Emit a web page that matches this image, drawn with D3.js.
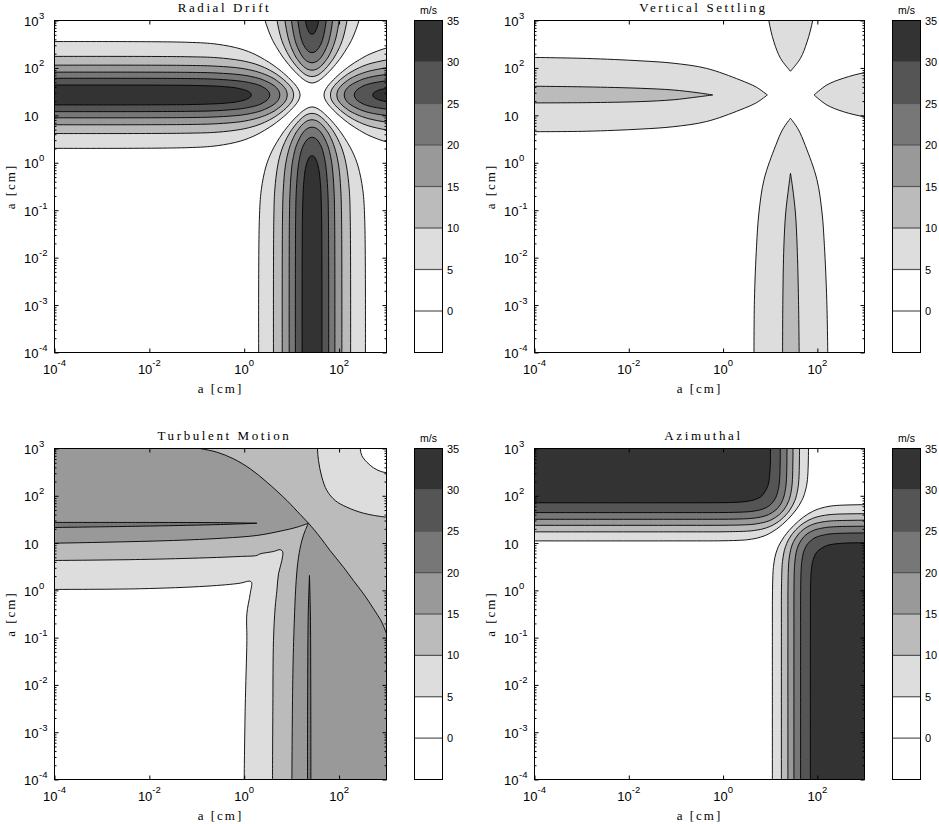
<!DOCTYPE html>
<html><head><meta charset="utf-8">
<script src="https://cdn.jsdelivr.net/npm/d3@7"></script>
<style>body{margin:0;background:#fff}</style></head>
<body><svg id="c" width="939" height="824"></svg>
<script>
// ---------------- data (sizes as log10(a [cm])) ----------------
const panelTitles = ["Radial Drift", "Vertical Settling", "Turbulent Motion", "Azimuthal"];
const xTickExps = [-4, -2, 0, 2];
const xTickLabels = [["10","-4"],["10","-2"],["10","0"],["10","2"]];
const yTickExps = [-4, -3, -2, -1, 0, 1, 2, 3];
const yTickLabels = [["10","-4"],["10","-3"],["10","-2"],["10","-1"],["10","0"],["10",""],["10","2"],["10","3"]];
const colorbarTicks = [0, 5, 10, 15, 20, 25, 30, 35];
const bandLevels = [-5, 0, 5, 10, 15, 20, 25, 30, 35];

// Radial drift: lobe left of the diagonal (a1 small) and lobe right of it (a1 large); panel symmetric in a1<->a2
const radialLeftLobes = [
 {level:5, pts:[[-4.3,2.555],[-1.2,2.541],[-0.57,2.5],[-0.07,2.4],[0.23,2.284],[0.43,2.175],[0.63,2.046],[0.83,1.889],[0.93,1.798],[1.03,1.696],[1.08,1.64],[1.13,1.569],[1.16,1.512],[1.178,1.43],[1.16,1.348],[1.13,1.291],[1.08,1.22],[1.03,1.164],[0.93,1.062],[0.83,0.971],[0.63,0.814],[0.43,0.685],[0.23,0.576],[-0.07,0.46],[-0.57,0.36],[-1.2,0.319],[-4.3,0.305]]},
 {level:10, pts:[[-4.3,2.243],[-1.2,2.236],[-0.57,2.215],[-0.07,2.156],[0.23,2.084],[0.43,2.007],[0.63,1.901],[0.73,1.834],[0.83,1.756],[0.93,1.661],[0.98,1.599],[1.01,1.555],[1.03,1.505],[1.042,1.43],[1.03,1.355],[1.01,1.305],[0.98,1.261],[0.93,1.199],[0.83,1.104],[0.73,1.026],[0.63,0.959],[0.43,0.853],[0.23,0.776],[-0.07,0.704],[-0.57,0.645],[-1.2,0.624],[-4.3,0.617]]},
 {level:15, pts:[[-4.3,2.058],[-1.2,2.053],[-0.57,2.036],[-0.07,1.993],[0.23,1.932],[0.43,1.867],[0.53,1.823],[0.63,1.772],[0.73,1.7],[0.78,1.66],[0.83,1.609],[0.87,1.555],[0.89,1.518],[0.908,1.43],[0.89,1.342],[0.87,1.305],[0.83,1.251],[0.78,1.2],[0.73,1.16],[0.63,1.088],[0.53,1.037],[0.43,0.993],[0.23,0.928],[-0.07,0.867],[-0.57,0.824],[-1.2,0.807],[-4.3,0.802]]},
 {level:20, pts:[[-4.3,1.911],[-1.2,1.907],[-0.57,1.893],[-0.07,1.855],[0.13,1.822],[0.33,1.773],[0.43,1.734],[0.53,1.688],[0.63,1.626],[0.68,1.585],[0.71,1.547],[0.73,1.515],[0.752,1.43],[0.73,1.345],[0.71,1.313],[0.68,1.275],[0.63,1.234],[0.53,1.172],[0.43,1.126],[0.33,1.087],[0.13,1.038],[-0.07,1.005],[-0.57,0.968],[-1.2,0.953],[-4.3,0.949]]},
 {level:25, pts:[[-4.3,1.781],[-1.2,1.776],[-0.57,1.761],[-0.07,1.721],[0.13,1.686],[0.23,1.662],[0.33,1.63],[0.43,1.577],[0.48,1.54],[0.51,1.508],[0.54,1.43],[0.51,1.352],[0.48,1.32],[0.43,1.283],[0.33,1.23],[0.23,1.198],[0.13,1.174],[-0.07,1.139],[-0.57,1.099],[-1.2,1.084],[-4.3,1.079]]},
 {level:30, pts:[[-4.3,1.639],[-1.2,1.633],[-0.57,1.615],[-0.37,1.601],[-0.17,1.578],[-0.07,1.557],[0.03,1.53],[0.08,1.506],[0.13,1.475],[0.149,1.43],[0.13,1.385],[0.08,1.354],[0.03,1.33],[-0.07,1.303],[-0.17,1.282],[-0.37,1.259],[-0.57,1.245],[-1.2,1.227],[-4.3,1.221]]}
];
const radialRightLobes = [
 {level:5, pts:[[3.3,2.482],[3.0,2.42],[2.63,2.284],[2.43,2.175],[2.23,2.046],[2.03,1.889],[1.93,1.798],[1.83,1.696],[1.78,1.64],[1.73,1.569],[1.7,1.512],[1.682,1.43],[1.7,1.348],[1.73,1.291],[1.78,1.22],[1.83,1.164],[1.93,1.062],[2.03,0.971],[2.23,0.814],[2.43,0.685],[2.63,0.576],[3.0,0.44],[3.3,0.378]]},
 {level:10, pts:[[3.3,2.205],[3.0,2.168],[2.63,2.084],[2.43,2.007],[2.23,1.901],[2.13,1.834],[2.03,1.756],[1.93,1.661],[1.88,1.599],[1.85,1.555],[1.83,1.505],[1.818,1.43],[1.83,1.355],[1.85,1.305],[1.88,1.261],[1.93,1.199],[2.03,1.104],[2.13,1.026],[2.23,0.959],[2.43,0.853],[2.63,0.776],[3.0,0.692],[3.3,0.655]]},
 {level:15, pts:[[3.3,2.028],[3.0,2.002],[2.63,1.932],[2.43,1.867],[2.33,1.823],[2.23,1.772],[2.13,1.7],[2.08,1.66],[2.03,1.609],[1.99,1.555],[1.97,1.518],[1.952,1.43],[1.97,1.342],[1.99,1.305],[2.03,1.251],[2.08,1.2],[2.13,1.16],[2.23,1.088],[2.33,1.037],[2.43,0.993],[2.63,0.928],[3.0,0.858],[3.3,0.832]]},
 {level:20, pts:[[3.3,1.887],[3.0,1.863],[2.73,1.822],[2.53,1.773],[2.43,1.734],[2.33,1.688],[2.23,1.626],[2.18,1.585],[2.15,1.547],[2.13,1.515],[2.108,1.43],[2.13,1.345],[2.15,1.313],[2.18,1.275],[2.23,1.234],[2.33,1.172],[2.43,1.126],[2.53,1.087],[2.73,1.038],[3.0,0.997],[3.3,0.973]]},
 {level:25, pts:[[3.3,1.753],[3.0,1.729],[2.73,1.686],[2.63,1.662],[2.53,1.63],[2.43,1.577],[2.38,1.54],[2.35,1.508],[2.32,1.43],[2.35,1.352],[2.38,1.32],[2.43,1.283],[2.53,1.23],[2.63,1.198],[2.73,1.174],[3.0,1.131],[3.3,1.107]]},
 {level:30, pts:[[3.3,1.607],[3.0,1.57],[2.93,1.557],[2.83,1.53],[2.78,1.506],[2.73,1.475],[2.711,1.43],[2.73,1.385],[2.78,1.354],[2.83,1.33],[2.93,1.303],[3.0,1.29],[3.3,1.253]]}
];

// Vertical settling: pointed lobes (top edge, tip, bottom edge); symmetric in a1<->a2
const settlingLeftLobes = [
 {level:5, top:[[-4.3,2.225],[-2.9,2.2],[-1.76,2.15],[-1.06,2.1],[-0.35,1.99],[0.36,1.746],[0.71,1.592],[0.939,1.43]],
           bottom:[[0.939,1.43],[0.71,1.268],[0.36,1.114],[-0.35,0.87],[-1.06,0.76],[-1.76,0.71],[-2.9,0.665],[-4.3,0.655]]},
 {level:10, top:[[-4.3,1.617],[-2.9,1.6],[-1.76,1.571],[-1.06,1.535],[-0.53,1.476],[-0.22,1.43]],
            bottom:[[-0.22,1.43],[-0.53,1.39],[-1.06,1.328],[-1.76,1.29],[-2.9,1.268],[-4.3,1.262]]}
];
const settlingRightLobes = [
 {level:5, top:[[3.3,1.93],[3.0,1.9],[2.55,1.782],[2.2,1.64],[1.93,1.43]],
           bottom:[[1.93,1.43],[2.2,1.22],[2.55,1.078],[3.0,0.97],[3.3,0.94]]}
];

// Azimuthal: corner contours of the upper-left region (a1 small, a2 large); symmetric in a1<->a2
const azimuthalCorners = [
 {level:5, pts:[[-4.3,1.046],[-1,1.046],[0,1.0485],[0.3893,1.06],[0.5105,1.07],[0.7017,1.1],[0.8689,1.15],[0.9797,1.2],[1.1408,1.3],[1.266,1.4],[1.3724,1.5],[1.4653,1.6],[1.5459,1.7],[1.6143,1.8],[1.67,1.9],[1.7134,2.0],[1.7685,2.2],[1.7948,2.4],[1.8127,3.0],[1.813,3.3]]},
 {level:10, pts:[[-4.3,1.2372],[-1,1.2372],[0,1.2387],[0.4782,1.25],[0.6079,1.26],[0.8442,1.3],[0.992,1.35],[1.0917,1.4],[1.1695,1.45],[1.2337,1.5],[1.3372,1.6],[1.4166,1.7],[1.4775,1.8],[1.523,1.9],[1.5558,2.0],[1.5941,2.2],[1.611,2.4],[1.622,3.0],[1.6222,3.3]]},
 {level:15, pts:[[-4.3,1.3753],[-1,1.3753],[0,1.3765],[0.4535,1.385],[0.6612,1.4],[0.9162,1.45],[1.0403,1.5],[1.1903,1.6],[1.2849,1.7],[1.3498,1.8],[1.3949,1.9],[1.4258,2.0],[1.4601,2.2],[1.4736,2.4],[1.4841,3.0],[1.4843,3.3]]},
 {level:20, pts:[[-4.3,1.5029],[-1,1.5029],[0,1.5041],[0.383,1.51],[0.5743,1.52],[0.7983,1.55],[0.9605,1.6],[1.1194,1.7],[1.2062,1.8],[1.2602,1.9],[1.295,2.0],[1.3318,2.2],[1.347,2.4],[1.3565,3.0],[1.3568,3.3]]},
 {level:25, pts:[[-4.3,1.6448],[-1,1.6448],[0,1.6463],[0.4142,1.655],[0.61,1.67],[0.7779,1.7],[0.9133,1.75],[0.9915,1.8],[1.0828,1.9],[1.1338,2.0],[1.1834,2.2],[1.2027,2.4],[1.2145,3.0],[1.2148,3.3]]},
 {level:30, pts:[[-4.3,1.852],[-1,1.852],[0,1.8546],[0.2353,1.86],[0.4066,1.87],[0.6099,1.9],[0.7498,1.95],[0.8238,2.0],[0.9464,2.2],[0.9936,2.5],[1.0068,3.0],[1.007,3.3]]}
];

// Turbulent motion: filled regions (background band is 15-20)
const turbulentRegions = [
 {level:10, segs:[[[-1.5,3.12],[-0.928,3.0],[-0.576,2.922],[-0.226,2.782],[0.126,2.571],[0.478,2.288],[0.9,1.9],[1.18,1.605],[1.355,1.42],[1.6,1.125],[1.81,0.843],[2.093,0.49],[2.3,0.21],[2.515,-0.072],[2.726,-0.389],[2.9,-0.672],[3.0,-0.918],[3.1,-1.25]]], corner:[[3.3,-1.25],[3.3,3.3],[-1.5,3.3]]},
 {level:10, segs:[[[-4.3,0.995],[-3.985,0.998],[-2.895,1.019],[-1.491,1.055],[-0.437,1.104],[0.267,1.161],[0.759,1.252],[1.111,1.336],[1.355,1.42]],
                  [[1.355,1.42],[1.286,1.266],[1.216,1.055],[1.145,0.702],[1.096,0.21],[1.054,-0.706],[1.026,-1.763],[1.005,-3.98],[1.003,-4.3]]], corner:[[-4.3,-4.3]]},
 {level:5, segs:[[[1.54,3.3],[1.545,3.0],[1.566,2.746],[1.637,2.394],[1.743,2.112],[1.918,1.9],[2.165,1.759],[2.515,1.632],[2.987,1.548],[3.3,1.53]]], corner:[[3.3,3.3]]},
 {level:5, segs:[[[-4.3,0.63],[-3.985,0.632],[-2.19,0.653],[-0.787,0.689],[-0.085,0.717],[0.267,0.738],[0.33,0.77],[0.617,0.822],[0.759,0.86],[0.81,0.82],[0.794,0.632],[0.723,0.35],[0.689,0.0],[0.653,-0.355],[0.617,-1.06],[0.604,-2.47],[0.597,-3.98],[0.597,-4.3]]], corner:[[-4.3,-4.3]]},
 {level:0, segs:[[[2.44,3.3],[2.445,3.0],[2.48,2.85],[2.587,2.71],[2.726,2.592],[2.867,2.52],[2.987,2.49],[3.3,2.47]]], corner:[[3.3,3.3]]},
 {level:0, segs:[[[-4.3,0.017],[-3.985,0.019],[-2.19,0.034],[-0.787,0.089],[-0.085,0.152],[0.111,0.195],[0.155,0.17],[0.126,-0.072],[0.056,-0.495],[0.056,-1.06],[0.021,-2.47],[0.0,-3.98],[0.0,-4.3]]], corner:[[-4.3,-4.3]]},
 {level:20, segs:[[[-4.3,1.437],[-2,1.436],[-0.5,1.432],[0.267,1.42]],[[0.267,1.42],[-0.5,1.392],[-2,1.36],[-4.3,1.325]]], corner:[]},
 {level:20, segs:[[[1.334,-4.3],[1.338,-2],[1.35,-0.5],[1.376,0.315]],[[1.376,0.315],[1.395,-0.5],[1.403,-2],[1.406,-4.3]]], corner:[]}
];

// ---------------- styles / layout ----------------
const shade = {0:"#ffffff",5:"#dddddd",10:"#bbbbbb",15:"#999999",20:"#777777",25:"#555555",30:"#333333"};
const SERIF = "'Liberation Serif','Times New Roman',serif";
const SANS = "'Liberation Sans',Arial,Helvetica,sans-serif";
const layout = [
 {x0:54.5, x1:386.5, y0:20.5, y1:352.5},
 {x0:534.5, x1:864.5, y0:20.5, y1:352.5},
 {x0:54.5, x1:386.5, y0:448.5, y1:779.5},
 {x0:534.5, x1:864.5, y0:448.5, y1:779.5}
];

const svg = d3.select("#c");

function regionPath(segs, corner, sx, sy, swap) {
  const P = p => swap ? [sx(Math.pow(10,p[1])), sy(Math.pow(10,p[0]))] : [sx(Math.pow(10,p[0])), sy(Math.pow(10,p[1]))];
  const path = d3.path();
  let started = false;
  const ctx = {
    moveTo(x,y){ if (started) path.lineTo(x,y); else { path.moveTo(x,y); started = true; } },
    lineTo(x,y){ path.lineTo(x,y); },
    bezierCurveTo(a,b,c,d,e,f){ path.bezierCurveTo(a,b,c,d,e,f); },
    closePath(){}
  };
  const line = d3.line().x(d => P(d)[0]).y(d => P(d)[1]).curve(d3.curveCatmullRom.alpha(0.5)).context(ctx);
  segs.forEach(s => line(s));
  (corner || []).forEach(c => { const q = P(c); path.lineTo(q[0], q[1]); });
  path.closePath();
  return path.toString();
}

function panel(i, drawContent, baseLevel) {
  const L = layout[i];
  const sx = d3.scaleLog().domain([1e-4, 1e3]).range([L.x0, L.x1]);
  const sy = d3.scaleLog().domain([1e-4, 1e3]).range([L.y1, L.y0]);
  const g = svg.append("g");
  const cid = "clip" + i;
  g.append("clipPath").attr("id", cid).append("rect")
    .attr("x", L.x0).attr("y", L.y0).attr("width", L.x1 - L.x0).attr("height", L.y1 - L.y0);
  const c = g.append("g").attr("clip-path", `url(#${cid})`);
  c.append("rect").attr("x", L.x0).attr("y", L.y0).attr("width", L.x1 - L.x0).attr("height", L.y1 - L.y0)
    .attr("fill", shade[baseLevel]);
  const add = (segs, corner, level, swap) => {
    c.append("path").attr("d", regionPath(segs, corner, sx, sy, swap))
      .attr("fill", shade[level]).attr("stroke", "#000").attr("stroke-width", 0.9)
      .attr("stroke-linejoin", "round");
  };
  drawContent(add);

  // axes (ticks inward)
  const ax = g.append("g").attr("font-family", SANS);
  const xt = xTickExps.map(e => Math.pow(10, e));
  const yt = yTickExps.map(e => Math.pow(10, e));
  const minor = [];
  for (let n = -4; n < 3; n++) for (let k = 2; k < 10; k++) minor.push(k * Math.pow(10, n));
  const mk = (axis, tr) => {
    const a = ax.append("g").attr("transform", tr).call(axis);
    a.select(".domain").remove();
    a.selectAll("line").attr("stroke", "#000");
  };
  mk(d3.axisBottom(sx).tickValues(xt).tickSize(-4).tickFormat(""), `translate(0,${L.y1})`);
  mk(d3.axisTop(sx).tickValues(xt).tickSize(-4).tickFormat(""), `translate(0,${L.y0})`);
  mk(d3.axisLeft(sy).tickValues(yt).tickSize(-4).tickFormat(""), `translate(${L.x0},0)`);
  mk(d3.axisRight(sy).tickValues(yt).tickSize(-4).tickFormat(""), `translate(${L.x1},0)`);
  mk(d3.axisLeft(sy).tickValues(minor).tickSize(-2).tickFormat(""), `translate(${L.x0},0)`);
  mk(d3.axisRight(sy).tickValues(minor).tickSize(-2).tickFormat(""), `translate(${L.x1},0)`);

  g.append("rect").attr("x", L.x0).attr("y", L.y0).attr("width", L.x1 - L.x0).attr("height", L.y1 - L.y0)
    .attr("fill", "none").attr("stroke", "#000").attr("stroke-width", 1);

  // x tick labels
  xTickExps.forEach((e, j) => {
    const t = g.append("text").attr("x", sx(Math.pow(10, e))).attr("y", L.y1 + 21.5)
      .attr("text-anchor", "middle").attr("font-family", SANS).attr("font-size", 13).attr("fill", "#000");
    t.append("tspan").text(xTickLabels[j][0]);
    t.append("tspan").attr("dy", -8).attr("font-size", 9.5).text(xTickLabels[j][1]);
  });
  // y tick labels
  yTickExps.forEach((e, j) => {
    const Y = sy(Math.pow(10, e));
    g.append("text").attr("x", L.x0 - 16).attr("y", Y + 5.5).attr("text-anchor", "end")
      .attr("font-family", SANS).attr("font-size", 13).text(yTickLabels[j][0]);
    if (yTickLabels[j][1]) g.append("text").attr("x", L.x0 - 15.5).attr("y", Y - 1.5)
      .attr("font-family", SANS).attr("font-size", 9.5).text(yTickLabels[j][1]);
  });
  // axis labels
  const cx = (L.x0 + L.x1) / 2, cy = (L.y0 + L.y1) / 2;
  g.append("text").attr("x", cx).attr("y", L.y1 + 40).attr("text-anchor", "middle")
    .attr("font-family", SERIF).attr("font-size", 13).attr("letter-spacing", 2).text("a [cm]");
  g.append("text").attr("transform", `translate(${L.x0 - 40},${cy}) rotate(-90)`).attr("text-anchor", "middle")
    .attr("font-family", SERIF).attr("font-size", 13).attr("letter-spacing", 2).text("a [cm]");
  // title
  g.append("text").attr("x", cx + 4).attr("y", L.y0 - 8.5).attr("text-anchor", "middle")
    .attr("font-family", SERIF).attr("font-size", 13).attr("letter-spacing", 2.6).text(panelTitles[i]);

  // colorbar
  const cbx0 = L.x1 + 28, cbw = 28;
  const cs = d3.scaleLinear().domain([bandLevels[0], bandLevels[bandLevels.length - 1]]).range([L.y1, L.y0]);
  const cb = g.append("g");
  for (let k = 0; k < bandLevels.length - 1; k++) {
    const lo = bandLevels[k], hi = bandLevels[k + 1];
    cb.append("rect").attr("x", cbx0).attr("y", cs(hi)).attr("width", cbw).attr("height", cs(lo) - cs(hi))
      .attr("fill", shade[Math.max(lo, 0)]);
  }
  colorbarTicks.slice(0, -1).forEach(v => {
    cb.append("line").attr("x1", cbx0).attr("x2", cbx0 + cbw).attr("y1", cs(v)).attr("y2", cs(v))
      .attr("stroke", "#555").attr("stroke-width", 1.2);
  });
  cb.append("rect").attr("x", cbx0).attr("y", L.y0).attr("width", cbw).attr("height", L.y1 - L.y0)
    .attr("fill", "none").attr("stroke", "#000").attr("stroke-width", 1);
  colorbarTicks.forEach(v => {
    cb.append("text").attr("x", cbx0 + cbw + 4.5).attr("y", cs(v) + 4).attr("font-family", SANS)
      .attr("font-size", 11).text(v);
  });
  cb.append("text").attr("x", cbx0 + cbw / 2).attr("y", L.y0 - 7).attr("text-anchor", "middle")
    .attr("font-family", SANS).attr("font-size", 10.5).text("m/s");
}

// Radial drift
panel(0, add => {
  radialLeftLobes.forEach((lobe, k) => {
    const right = radialRightLobes[k];
    add([lobe.pts], [], lobe.level, false);
    add([lobe.pts], [], lobe.level, true);
    add([right.pts], [], right.level, false);
    add([right.pts], [], right.level, true);
  });
}, 0);

// Vertical settling
panel(1, add => {
  settlingLeftLobes.forEach((lobe, k) => {
    add([lobe.top, lobe.bottom], [], lobe.level, false);
    add([lobe.top, lobe.bottom], [], lobe.level, true);
    const r = settlingRightLobes[k];
    if (r) {
      add([r.top, r.bottom], [], r.level, false);
      add([r.top, r.bottom], [], r.level, true);
    }
  });
}, 0);

// Turbulent motion
panel(2, add => {
  turbulentRegions.forEach(r => add(r.segs, r.corner, r.level, false));
}, 15);

// Azimuthal
panel(3, add => {
  azimuthalCorners.forEach(cn => {
    add([cn.pts], [[-4.3, 3.3]], cn.level, false);
    add([cn.pts], [[-4.3, 3.3]], cn.level, true);
  });
}, 0);
</script>
</body></html>
